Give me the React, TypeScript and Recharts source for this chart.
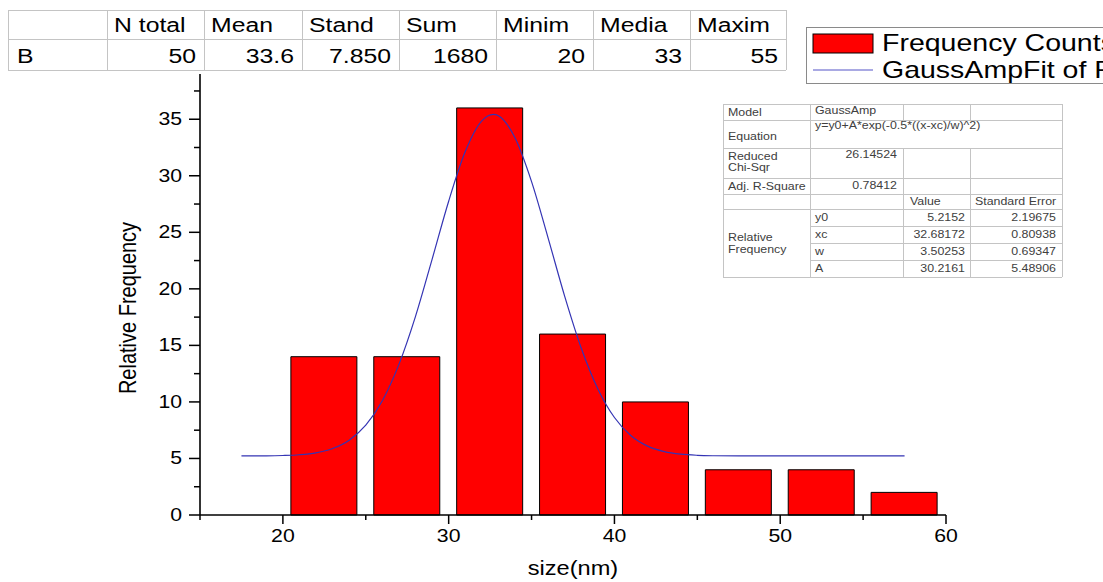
import React from "react";
import { ComposedChart, Bar, Line, XAxis, YAxis, Legend } from "recharts";

// histogram bins (5 nm wide) and relative frequency
const binCenters = [22.5, 27.5, 32.5, 37.5, 42.5, 47.5, 52.5, 57.5];
const frequencies = [14, 14, 36, 16, 10, 4, 4, 2];

// Gauss fit curve
const fitX = [17.5, 19, 20, 21, 22, 23, 24, 25, 26, 27, 28, 29, 30, 31, 32, 32.7, 33, 34, 35, 36, 37, 38, 39, 40, 41, 42, 43, 44, 45, 46, 47.5, 50, 52.5, 55, 57.5];
const fitY = [5.22, 5.23, 5.26, 5.33, 5.5, 5.88, 6.62, 7.94, 10.11, 13.32, 17.57, 22.61, 27.75, 32.14, 34.86, 35.43, 35.31, 33.36, 29.48, 24.49, 19.34, 14.75, 11.15, 8.62, 7.01, 6.09, 5.61, 5.38, 5.28, 5.24, 5.22, 5.22, 5.22, 5.22, 5.22];

const xTicks = [15, 20, 25, 30, 35, 40, 45, 50, 55, 60];
const yTicks = [0, 2.5, 5, 7.5, 10, 12.5, 15, 17.5, 20, 22.5, 25, 27.5, 30, 32.5, 35, 37.5];

const statHeaders = ["N total", "Mean", "Stand", "Sum", "Minim", "Media", "Maxim"];
const statRowLabel = "B";
const statValues = ["50", "33.6", "7.850", "1680", "20", "33", "55"];

const fitModel = "GaussAmp";
const fitEquation = "y=y0+A*exp(-0.5*((x-xc)/w)^2)";
const fitChiSqr = "26.14524";
const fitAdjR2 = "0.78412";
const fitParamNames = ["y0", "xc", "w", "A"];
const fitParamValues = ["5.2152", "32.68172", "3.50253", "30.2161"];
const fitParamErrors = ["2.19675", "0.80938", "0.69347", "5.48906"];

const binRows = binCenters.map((size, i) => ({ size, freq: frequencies[i] }));
const fitRows = fitX.map((size, i) => ({ size, fit: fitY[i] }));

const SX = 1.18; // the original is a bit stretched sideways
const FONT = "'Liberation Sans', Arial, sans-serif";

function St({ x, y, size, anchor = "start", fill = "#000", sx = SX, children }: any) {
  return (
    <text transform={`translate(${x},${y}) scale(${sx},1)`} fontSize={size} textAnchor={anchor} fill={fill} fontFamily={FONT}>
      {children}
    </text>
  );
}

const XTick = ({ x, y, payload }: any) => {
  const major = payload.value % 10 === 0;
  return (
    <g>
      <line x1={x} y1={y} x2={x} y2={y + (major ? 9 : 5)} stroke="#000" strokeWidth={1.5} />
      {major && <St x={x} y={y + 27} size={18} anchor="middle">{payload.value}</St>}
    </g>
  );
};

const YTick = ({ x, y, payload }: any) => {
  const major = payload.value % 5 === 0;
  return (
    <g>
      <line x1={x - (major ? 11 : 6)} y1={y} x2={x} y2={y} stroke="#000" strokeWidth={1.5} />
      {major && <St x={x - 18} y={y + 6} size={18} anchor="end">{payload.value}</St>}
    </g>
  );
};

const renderLegend = (props: any) => {
  const items = props.payload || [];
  return (
    <svg width={320} height={58} style={{ display: "block", overflow: "visible" }}>
      <rect x={0.5} y={0.5} width={400} height={56} fill="#fff" stroke="#8a8a8a" />
      {items.map((it: any, i: number) => {
        const cy = i === 0 ? 16 : 43;
        return (
          <g key={i}>
            {it.type === "line" ? (
              <line x1={7} y1={cy} x2={67} y2={cy} stroke="#5555c8" strokeWidth={1.2} />
            ) : (
              <rect x={7} y={cy - 9} width={60} height={19} fill="#ff0000" stroke="#000" />
            )}
            <St x={76} y={cy + 8} size={23} sx={1.24}>{it.value}</St>
          </g>
        );
      })}
    </svg>
  );
};

const statCols = [8, 107, 204, 302, 399, 496, 593, 690, 786];
const statRowsY = [10, 39, 70];
const fitCols = [723, 810, 903, 970, 1062];
const fitRowsY = [104, 120, 148, 178, 194, 209, 226, 243, 260, 277];

function Tables() {
  const g = "#c4c4c4";
  const tc = "#404040";
  const fs = 10.5;
  return (
    <svg width={1103} height={582} style={{ position: "absolute", left: 0, top: 0, pointerEvents: "none" }}>
      {/* stats table */}
      {statRowsY.map((y) => (
        <line key={"sh" + y} x1={statCols[0]} y1={y + 0.5} x2={statCols[8]} y2={y + 0.5} stroke={g} />
      ))}
      {statCols.map((x) => (
        <line key={"sv" + x} x1={x + 0.5} y1={statRowsY[0]} x2={x + 0.5} y2={statRowsY[2]} stroke={g} />
      ))}
      {statHeaders.map((h, i) => (
        <St key={h} x={statCols[i + 1] + 7} y={32} size={21}>{h}</St>
      ))}
      <St x={17} y={63} size={21}>{statRowLabel}</St>
      {statValues.map((v, i) => (
        <St key={i} x={statCols[i + 2] - 8} y={63} size={21} anchor="end">{v}</St>
      ))}

      {/* fit results table */}
      <rect x={fitCols[0]} y={fitRowsY[0]} width={fitCols[4] - fitCols[0]} height={fitRowsY[9] - fitRowsY[0]} fill="#fff" />
      {fitRowsY.map((y, i) => (
        <line key={"fh" + y} x1={i >= 6 && i <= 8 ? fitCols[1] : fitCols[0]} y1={y + 0.5} x2={fitCols[4]} y2={y + 0.5} stroke={g} />
      ))}
      {[fitCols[0], fitCols[1], fitCols[4]].map((x) => (
        <line key={"fv" + x} x1={x + 0.5} y1={fitRowsY[0]} x2={x + 0.5} y2={fitRowsY[9]} stroke={g} />
      ))}
      {[fitCols[2], fitCols[3]].map((x) => (
        <g key={"fvv" + x}>
          <line x1={x + 0.5} y1={fitRowsY[0]} x2={x + 0.5} y2={fitRowsY[1]} stroke={g} />
          <line x1={x + 0.5} y1={fitRowsY[2]} x2={x + 0.5} y2={fitRowsY[9]} stroke={g} />
        </g>
      ))}
      <St x={728} y={116} size={fs} fill={tc}>Model</St>
      <St x={815} y={114} size={fs} fill={tc}>{fitModel}</St>
      <St x={728} y={140} size={fs} fill={tc}>Equation</St>
      <St x={815} y={129} size={fs} fill={tc}>{fitEquation}</St>
      <St x={728} y={160} size={fs} fill={tc}>Reduced</St>
      <St x={728} y={171} size={fs} fill={tc}>Chi-Sqr</St>
      <St x={897} y={158} size={fs} fill={tc} anchor="end">{fitChiSqr}</St>
      <St x={728} y={190} size={fs} fill={tc}>Adj. R-Square</St>
      <St x={897} y={189} size={fs} fill={tc} anchor="end">{fitAdjR2}</St>
      <St x={910} y={205} size={fs} fill={tc}>Value</St>
      <St x={975} y={205} size={fs} fill={tc}>Standard Error</St>
      <St x={728} y={241} size={fs} fill={tc}>Relative</St>
      <St x={728} y={253} size={fs} fill={tc}>Frequency</St>
      {fitParamNames.map((n, i) => {
        const y = fitRowsY[5 + i] + 12;
        return (
          <g key={n}>
            <St x={815} y={y} size={fs} fill={tc}>{n}</St>
            <St x={965} y={y} size={fs} fill={tc} anchor="end">{fitParamValues[i]}</St>
            <St x={1056} y={y} size={fs} fill={tc} anchor="end">{fitParamErrors[i]}</St>
          </g>
        );
      })}
    </svg>
  );
}

export default function App() {
  return (
    <div style={{ position: "absolute", left: 0, top: 0, width: 1103, height: 582, overflow: "hidden", background: "#fff", fontFamily: FONT }}>
      <ComposedChart width={1103} height={582} data={binRows} margin={{ top: 74, right: 157, bottom: 27, left: 140 }}>
        <XAxis
          xAxisId="bins"
          dataKey="size"
          type="number"
          domain={[15, 60]}
          ticks={xTicks}
          interval={0}
          tickSize={0}
          tickMargin={0}
          tickLine={false}
          tick={<XTick />}
          axisLine={{ stroke: "#000", strokeWidth: 1.6 }}
          height={40}
          label={{
            value: "size(nm)",
            content: () => (
              <St x={573} y={575} size={20} anchor="middle">{"size(nm)"}</St>
            ),
          }}
        />
        <XAxis xAxisId="fit" dataKey="size" type="number" domain={[15, 60]} hide />
        <YAxis
          domain={[0, 39]}
          ticks={yTicks}
          interval={0}
          tickSize={0}
          tickMargin={0}
          tickLine={false}
          tick={<YTick />}
          axisLine={{ stroke: "#000", strokeWidth: 1.6 }}
          width={60}
          label={{
            value: "Relative Frequency",
            content: () => (
              <text transform={`translate(128,308) rotate(-90) scale(1,${SX})`} textAnchor="middle" dominantBaseline="central" fontSize={20} fontFamily={FONT} fill="#000">
                Relative Frequency
              </text>
            ),
          }}
        />
        <Legend
          layout="horizontal"
          verticalAlign="middle"
          align="center"
          content={renderLegend}
          wrapperStyle={{ position: "absolute", left: 806, top: 27, width: 320, height: 58 }}
        />
        <Bar xAxisId="bins" dataKey="freq" name="Frequency Counts" barSize={66} fill="#ff0000" stroke="#000" strokeWidth={1} isAnimationActive={false} legendType="rect" />
        <Line xAxisId="fit" data={fitRows} dataKey="fit" name="GaussAmpFit of Frequency Counts" type="monotone" dot={false} stroke="#3434b4" strokeWidth={1.2} isAnimationActive={false} legendType="line" />
      </ComposedChart>
      <Tables />
    </div>
  );
}
